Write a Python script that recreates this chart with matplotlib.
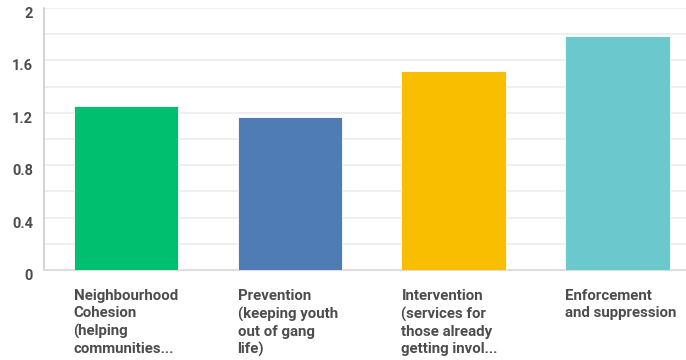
import numpy as np
import matplotlib.pyplot as plt
from matplotlib.transforms import offset_copy

plt.rcParams['font.family'] = ['Roboto', 'DejaVu Sans']

# -------------------
#    Data
# -------------------
categories = ['Neighbourhood\nCohesion\n(helping\ncommunities...',
              'Prevention\n(keeping youth\nout of gang\nlife)',
              'Intervention\n(services for\nthose already\ngetting invol...',
              'Enforcement\nand suppression']
scores = [1.25, 1.17, 1.52, 1.79]
colors = ['#00BF6F', '#507CB6', '#F9BE00', '#6BC8CD']
yticks = [0, 0.4, 0.8, 1.2, 1.6, 2]
ytick_labels = ['0', '0.4', '0.8', '1.2', '1.6', '2']

text_color = '#4d4d4d'
bar_width = 0.64

# -------------------
#    Plotting area
# -------------------
fig = plt.figure(figsize=(6.86, 3.6), dpi=100)
ax = fig.add_axes([44/686, 90/360, 642/686, 262/360])

x = np.arange(len(scores))
ax.bar(x, scores, width=bar_width, color=colors, edgecolor='white', linewidth=0.6, zorder=3)

ax.set_ylim(0, 2)
ax.set_xlim(-0.5, 3.415)

# light grid every 0.2, labels every 0.4
for g in np.arange(0.2, 2.01, 0.2):
    ax.axhline(g, color='#ececec', lw=1.2, zorder=1)

ax.set_yticks(yticks)
ax.set_yticklabels([])
ax.tick_params(axis='y', length=0)
ax.set_xticks([])
for v, lab in zip(yticks, ytick_labels):
    tr = offset_copy(ax.transData, fig=fig, x=-11, y=-6, units='dots')
    ax.text(ax.get_xlim()[0], v, lab, transform=tr, ha='right', va='center',
            fontsize=10.5, fontweight='bold', color=text_color)

for s in ['top', 'right']:
    ax.spines[s].set_visible(False)
ax.spines['left'].set_color('#cccccc')
ax.spines['bottom'].set_color('#dddddd')
ax.spines['left'].set_linewidth(1.2)
ax.spines['bottom'].set_linewidth(1.5)

# category labels, left aligned under each bar
for i, lab in enumerate(categories):
    ax.annotate(lab, xy=(i - bar_width/2, 0), xycoords='data',
                xytext=(0, -19), textcoords='offset pixels',
                ha='left', va='top', fontsize=10.8, fontweight='bold',
                color=text_color, linespacing=1.3, annotation_clip=False)

plt.savefig('out.png', dpi=100)
